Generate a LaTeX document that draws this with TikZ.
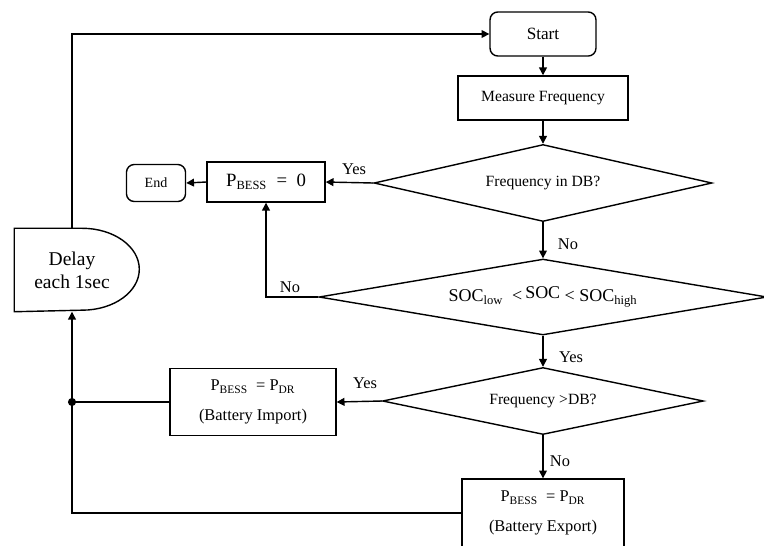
\documentclass[tikz,border=0pt]{standalone}
\usepackage{fontspec}
\setmainfont{Liberation Serif}
\usepackage{tikz}
\usetikzlibrary{arrows.meta,positioning,shapes.geometric}

\begin{document}
\begin{tikzpicture}[x=0.64pt,y=-0.64pt,line width=0.9pt,
  box/.style={draw,rectangle,inner sep=0pt},
  term/.style={draw,rectangle,rounded corners=5pt,inner sep=0pt},
  decision/.style={draw,diamond,inner sep=0pt},
  arr/.style={-{Triangle[length=5pt,width=5pt]}},
  lbl/.style={inner sep=0pt,font=\fontsize{10.5}{12}\selectfont}]
\useasboundingbox (0,0) rectangle (764,545);

% terminals and process boxes
\node[term,minimum width=67.8pt,minimum height=28.2pt,font=\fontsize{11}{13}\selectfont] (start) at (543,34) {Start};
\node[box,minimum width=108.8pt,minimum height=28.2pt] (measure) at (543,98) {Measure Frequency};
\node[box,minimum width=75.5pt,minimum height=25.6pt,font=\fontsize{12}{14}\selectfont] (zero) at (266,182) {P\textsubscript{BESS}\enspace=\enspace0};
\node[term,minimum width=37.8pt,minimum height=23.7pt,font=\fontsize{9}{11}\selectfont] (end) at (156,183) {End};
\node[box,minimum width=106.2pt,minimum height=42.9pt,align=center,font=\fontsize{10.5}{12}\selectfont] (import) at (253,402) {P\textsubscript{BESS}\enspace= P\textsubscript{DR}\\[7pt](Battery Import)};
\node[box,minimum width=103.7pt,minimum height=43.5pt,align=center,font=\fontsize{10.5}{12}\selectfont] (export) at (543,513) {P\textsubscript{BESS}\enspace= P\textsubscript{DR}\\[7pt](Battery Export)};

% decisions
\node[decision,aspect=4.4,minimum width=216.3pt,minimum height=49.3pt] (d1) at (543,183) {Frequency in DB?};
\node[decision,aspect=5.9,minimum width=286.7pt,minimum height=48.6pt,font=\fontsize{11.5}{13}\selectfont] (d2) at (543,297) {SOC\textsubscript{low}\enspace<\,\raisebox{2pt}{SOC} < SOC\textsubscript{high}};
\node[decision,aspect=4.8,minimum width=205.4pt,minimum height=42.9pt] (d3) at (543,401) {Frequency >DB?};

% delay block
\node[minimum width=73pt,minimum height=52.5pt,inner sep=0pt,align=center,font=\fontsize{12.5}{14.7}\selectfont] (delay) at (72,270) {Delay\\each 1sec};
\draw (delay.north west) -- ++(68,0) arc[start angle=90,end angle=-90,x radius=36.5pt,y radius=26.2pt] -- (delay.south west) -- cycle;

% main flow
\draw[arr] (start) -- (measure);
\draw[arr] (measure) -- (d1);
\draw[arr] (d1.west) -- (zero.east);
\draw[arr] (zero.west) -- (end.east);
\draw[arr] (d1.south) -- (d2.north);
\draw[arr] (d2.west) -| (zero.south);
\draw[arr] (d2.south) -- (d3.north);
\draw[arr] (d3.west) -- (import.east);
\draw[arr] (d3.south) -- (export.north);

% loop back through the delay
\coordinate (join) at (import.west -| delay.south);
\draw (import.west) -- (join);
\fill (join) circle (2.6pt);
\draw[arr] (export.west) -| (delay.south);
\draw[arr] (delay.north) |- (start.west);

% branch labels
\node[lbl] (yes1) at (354,169) {Yes};
\node[lbl] (no1) at (568,244) {No};
\node[lbl] (no2) at (290,287) {No};
\node[lbl] (yes2) at (571,357) {Yes};
\node[lbl] (yes3) at (365,383) {Yes};
\node[lbl] (no3) at (560,461) {No};
\end{tikzpicture}
\end{document}
